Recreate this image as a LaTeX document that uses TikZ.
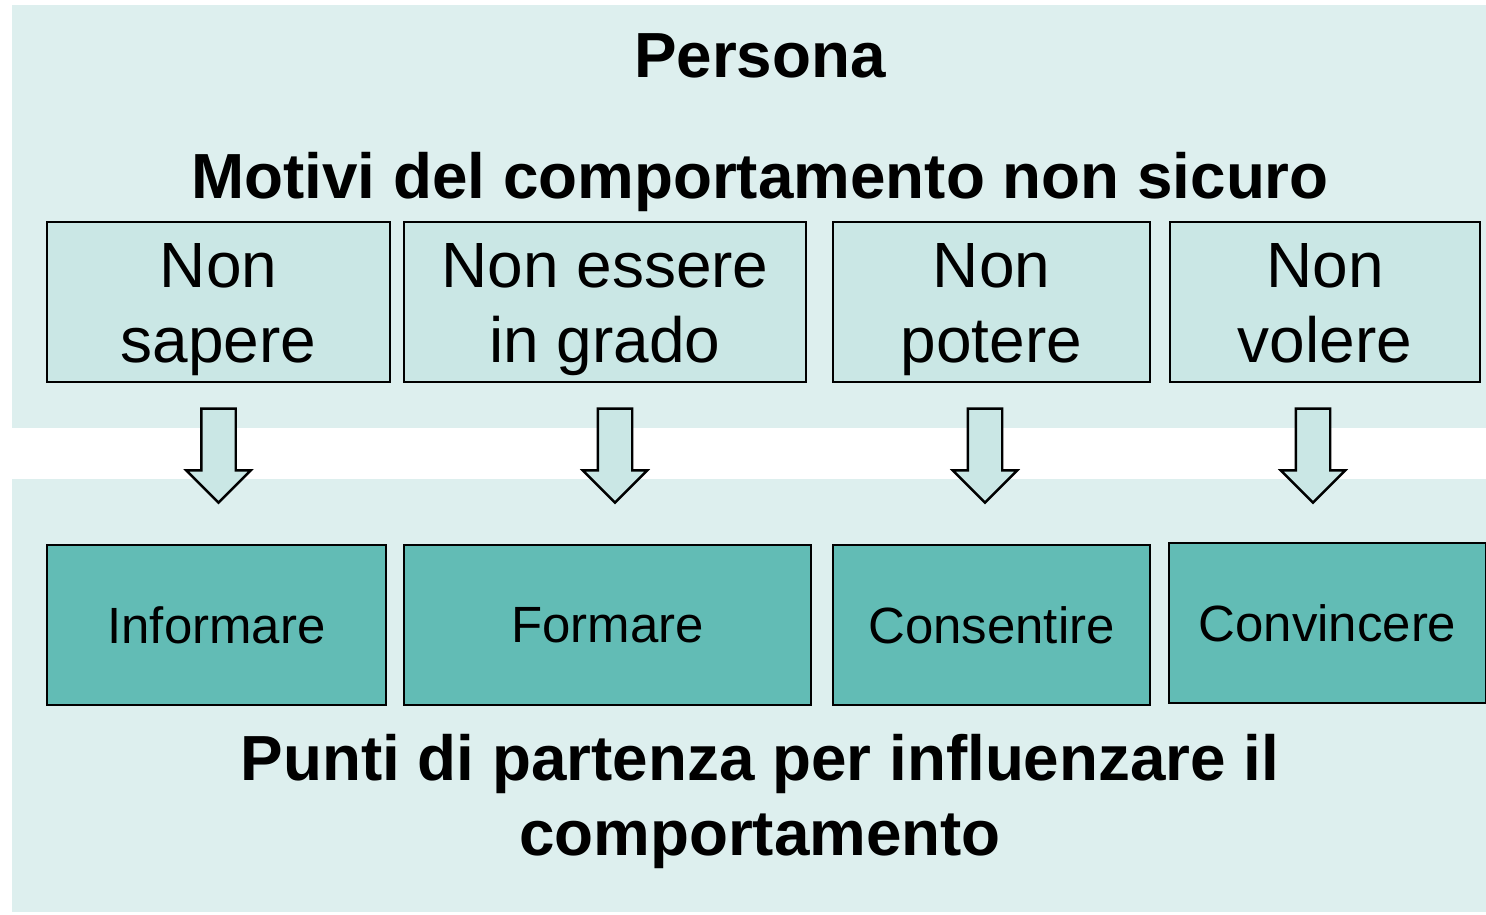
\documentclass[tikz,border=0pt]{standalone}
\usepackage{fontspec}
\setmainfont{Liberation Sans}
\usetikzlibrary{positioning,shapes.arrows}
\definecolor{panelbg}{HTML}{DDEFEE}
\definecolor{motivefill}{HTML}{CAE7E5}
\definecolor{actionfill}{HTML}{62BCB5}
\newcommand{\twolines}[2]{\raisebox{-0.16cm}[\height][\depth]{\begin{tabular}{@{}c@{}}#1\\#2\end{tabular}}}

\begin{document}
\begin{tikzpicture}[x=0.02cm, y=-0.02cm,
    motive/.style={draw=black, line width=1.4pt, fill=motivefill, minimum height=3.2cm, inner sep=0pt, font=\fontsize{36.4}{42.7}\selectfont},
    action/.style={draw=black, line width=1.4pt, fill=actionfill, minimum height=3.2cm, inner sep=0pt, font=\fontsize{29}{35}\selectfont},
    heading/.style={inner sep=0pt, font=\bfseries\fontsize{36.3}{42.8}\selectfont},
    downarrow/.style={single arrow, draw=black, line width=1.4pt, fill=motivefill, rotate=-90, minimum height=1.88cm, minimum width=1.24cm, single arrow head extend=0.3cm, inner sep=0pt, text height=0.32cm, text depth=0.32cm}]
\useasboundingbox (0,0) rectangle (1486,914);

% panels
\fill[panelbg] (12,5) rectangle (1486,428);
\fill[panelbg] (12,479) rectangle (1486,912);

% titles
\node[heading, anchor=base] (persona) at (760,77) {Persona};
\node[heading, anchor=base] (motivi) at (760,198) {Motivi del comportamento non sicuro};

% reasons
\node[motive, minimum width=6.86cm] (sapere) at (218.5,302) {\twolines{Non}{sapere}};
\node[motive, minimum width=8.04cm] (grado) at (605,302) {\twolines{Non essere}{in grado}};
\node[motive, minimum width=6.34cm] (potere) at (991.5,302) {\twolines{Non}{potere}};
\node[motive, minimum width=6.2cm] (volere) at (1325,302) {\twolines{Non}{volere}};

% arrows
\node[downarrow] (arrsapere) at (218.5,447) {};
\node[downarrow] (arrgrado) at (615,447) {};
\node[downarrow] (arrpotere) at (985,447) {};
\node[downarrow] (arrvolere) at (1313,447) {};

% levers
\node[action, minimum width=6.78cm] (informare) at (216.5,625) {Informare};
\node[action, minimum width=8.14cm] (formare) at (607.5,625) {Formare};
\node[action, minimum width=6.34cm] (consentire) at (991.5,625) {Consentire};
\node[action, minimum width=6.34cm] (convincere) at (1327.5,623) {Convincere};

\node[heading, anchor=north, align=center] (punti) at (760,734) {Punti di partenza per influenzare il\\comportamento};

\end{tikzpicture}
\end{document}
